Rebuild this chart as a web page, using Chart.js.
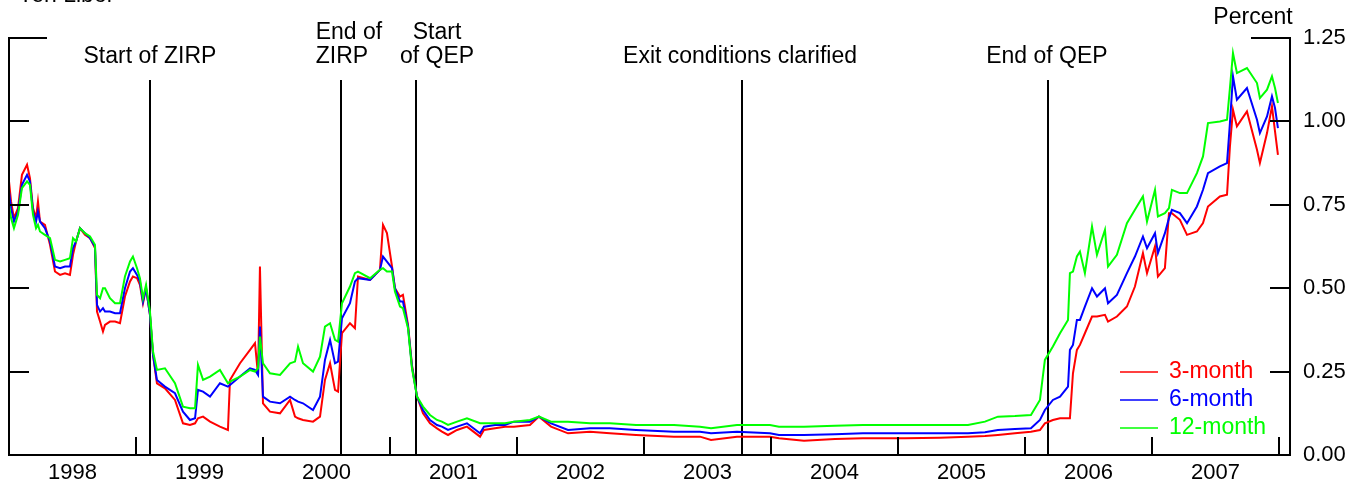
<!DOCTYPE html>
<html>
<head>
<meta charset="utf-8">
<script src="https://cdn.jsdelivr.net/npm/chart.js@4/dist/chart.umd.min.js"></script>
<style>
  html, body { margin: 0; padding: 0; background: #fff; overflow: hidden; }
  canvas { display: block; }
</style>
</head>
<body>
<canvas id="grafico-libor" width="1349" height="487"></canvas>
<script>
// dates as decimal years
const fechas = [
  1998.000, 1998.016, 1998.039, 1998.071, 1998.102, 1998.142, 1998.165, 1998.189, 1998.213, 1998.228,
  1998.244, 1998.283, 1998.323, 1998.362, 1998.402, 1998.441, 1998.480, 1998.504, 1998.528, 1998.559,
  1998.598, 1998.638, 1998.677, 1998.693, 1998.717, 1998.740, 1998.756, 1998.795, 1998.835, 1998.874,
  1998.913, 1998.953, 1998.976, 1999.008, 1999.031, 1999.055, 1999.079, 1999.110, 1999.134, 1999.165,
  1999.228, 1999.307, 1999.370, 1999.425, 1999.465, 1999.488, 1999.528, 1999.583, 1999.661, 1999.724,
  1999.740, 1999.819, 1999.898, 1999.937, 1999.961, 1999.976, 2000.000, 2000.055, 2000.134, 2000.213,
  2000.252, 2000.276, 2000.315, 2000.394, 2000.449, 2000.488, 2000.528, 2000.567, 2000.591, 2000.622,
  2000.685, 2000.724, 2000.748, 2000.843, 2000.921, 2000.945, 2000.976, 2001.016, 2001.039, 2001.079,
  2001.102, 2001.142, 2001.173, 2001.213, 2001.260, 2001.315, 2001.370, 2001.409, 2001.457, 2001.528,
  2001.606, 2001.709, 2001.740, 2001.827, 2001.906, 2001.976, 2002.102, 2002.173, 2002.268, 2002.402,
  2002.575, 2002.732, 2002.937, 2003.236, 2003.441, 2003.528, 2003.732, 2003.992, 2004.063, 2004.260,
  2004.504, 2004.724, 2005.055, 2005.331, 2005.551, 2005.685, 2005.787, 2005.921, 2006.047, 2006.118,
  2006.157, 2006.220, 2006.276, 2006.339, 2006.354, 2006.378, 2006.409, 2006.433, 2006.472, 2006.528,
  2006.567, 2006.630, 2006.654, 2006.724, 2006.803, 2006.866, 2006.929, 2006.961, 2007.024, 2007.047,
  2007.102, 2007.134, 2007.157, 2007.220, 2007.276, 2007.354, 2007.402, 2007.441, 2007.535, 2007.591,
  2007.614, 2007.638, 2007.669, 2007.748, 2007.827, 2007.850, 2007.906, 2007.945, 2007.969, 2007.992
];

const libor3m = [
  0.82, 0.76, 0.71, 0.74, 0.84, 0.87, 0.83, 0.74, 0.71, 0.76,
  0.70, 0.69, 0.63, 0.55, 0.54, 0.545, 0.54, 0.60, 0.64, 0.68,
  0.66, 0.65, 0.62, 0.43, 0.40, 0.37, 0.39, 0.40, 0.40, 0.395,
  0.475, 0.52, 0.535, 0.53, 0.51, 0.455, 0.50, 0.42, 0.30, 0.215,
  0.20, 0.165, 0.095, 0.09, 0.095, 0.11, 0.115, 0.10, 0.085, 0.075,
  0.225, 0.275, 0.315, 0.335, 0.24, 0.565, 0.155, 0.13, 0.125, 0.165,
  0.115, 0.11, 0.105, 0.10, 0.115, 0.225, 0.275, 0.195, 0.19, 0.365,
  0.395, 0.38, 0.535, 0.525, 0.555, 0.69, 0.665, 0.565, 0.50, 0.475,
  0.48, 0.39, 0.27, 0.175, 0.125, 0.095, 0.08, 0.07, 0.06, 0.075,
  0.085, 0.055, 0.075, 0.08, 0.085, 0.085, 0.09, 0.115, 0.085, 0.065,
  0.07, 0.065, 0.06, 0.055, 0.055, 0.045, 0.055, 0.055, 0.05, 0.043,
  0.048, 0.05, 0.05, 0.052, 0.055, 0.057, 0.06, 0.065, 0.07, 0.075,
  0.095, 0.105, 0.11, 0.11, 0.11, 0.245, 0.315, 0.33, 0.365, 0.415,
  0.415, 0.42, 0.40, 0.415, 0.445, 0.505, 0.605, 0.545, 0.625, 0.535,
  0.56, 0.725, 0.725, 0.705, 0.66, 0.67, 0.695, 0.745, 0.775, 0.78,
  0.925, 1.035, 0.985, 1.03, 0.915, 0.875, 0.965, 1.045, 0.97, 0.90
];

const libor6m = [
  0.79, 0.74, 0.70, 0.73, 0.81, 0.84, 0.82, 0.73, 0.70, 0.73,
  0.70, 0.68, 0.64, 0.565, 0.56, 0.565, 0.565, 0.62, 0.64, 0.68,
  0.665, 0.65, 0.625, 0.45, 0.43, 0.44, 0.43, 0.43, 0.425, 0.425,
  0.50, 0.55, 0.56, 0.54, 0.52, 0.46, 0.50, 0.42, 0.30, 0.225,
  0.205, 0.185, 0.13, 0.105, 0.11, 0.195, 0.19, 0.175, 0.215, 0.205,
  0.21, 0.235, 0.26, 0.255, 0.24, 0.385, 0.175, 0.16, 0.155, 0.175,
  0.165, 0.16, 0.155, 0.135, 0.175, 0.285, 0.345, 0.275, 0.28, 0.41,
  0.455, 0.52, 0.53, 0.525, 0.555, 0.595, 0.58, 0.56, 0.50, 0.46,
  0.46, 0.385, 0.265, 0.175, 0.135, 0.105, 0.09, 0.085, 0.075, 0.085,
  0.095, 0.065, 0.085, 0.09, 0.09, 0.10, 0.10, 0.115, 0.095, 0.075,
  0.08, 0.08, 0.075, 0.07, 0.07, 0.065, 0.07, 0.065, 0.06, 0.06,
  0.062, 0.065, 0.065, 0.065, 0.065, 0.068, 0.075, 0.078, 0.08, 0.105,
  0.135, 0.165, 0.175, 0.205, 0.315, 0.33, 0.405, 0.405, 0.445, 0.50,
  0.475, 0.50, 0.455, 0.48, 0.545, 0.595, 0.655, 0.62, 0.665, 0.605,
  0.665, 0.71, 0.735, 0.725, 0.695, 0.745, 0.795, 0.845, 0.865, 0.875,
  0.995, 1.135, 1.065, 1.10, 1.005, 0.965, 1.015, 1.075, 1.04, 0.98
];

const libor12m = [
  0.75, 0.71, 0.68, 0.72, 0.80, 0.82, 0.81, 0.72, 0.68, 0.69,
  0.67, 0.66, 0.65, 0.585, 0.58, 0.585, 0.59, 0.65, 0.64, 0.68,
  0.665, 0.655, 0.63, 0.48, 0.47, 0.50, 0.50, 0.47, 0.455, 0.455,
  0.535, 0.58, 0.595, 0.56, 0.53, 0.47, 0.51, 0.43, 0.31, 0.255,
  0.26, 0.215, 0.145, 0.14, 0.14, 0.27, 0.225, 0.235, 0.255, 0.215,
  0.22, 0.235, 0.255, 0.25, 0.26, 0.355, 0.275, 0.245, 0.24, 0.275,
  0.28, 0.325, 0.275, 0.25, 0.295, 0.385, 0.395, 0.345, 0.34, 0.455,
  0.505, 0.545, 0.55, 0.53, 0.555, 0.56, 0.55, 0.55, 0.49, 0.445,
  0.44, 0.38, 0.26, 0.175, 0.145, 0.12, 0.105, 0.10, 0.09, 0.10,
  0.11, 0.095, 0.095, 0.095, 0.095, 0.10, 0.105, 0.115, 0.10, 0.10,
  0.095, 0.095, 0.09, 0.09, 0.085, 0.08, 0.09, 0.09, 0.085, 0.085,
  0.088, 0.09, 0.09, 0.09, 0.09, 0.10, 0.115, 0.117, 0.12, 0.165,
  0.285, 0.325, 0.365, 0.405, 0.545, 0.55, 0.595, 0.61, 0.545, 0.685,
  0.60, 0.675, 0.565, 0.60, 0.695, 0.735, 0.775, 0.70, 0.795, 0.715,
  0.725, 0.74, 0.795, 0.785, 0.785, 0.845, 0.895, 0.995, 1.00, 1.005,
  1.10, 1.205, 1.145, 1.16, 1.115, 1.07, 1.095, 1.135, 1.10, 1.055
];

const eventos = [
  { fecha: 1999.110, lineas: ['Start of ZIRP'], dx: [0] },
  { fecha: 2000.614, lineas: ['End of', 'ZIRP'], dx: [8, 1] },
  { fecha: 2001.205, lineas: ['Start', 'of QEP'], dx: [21, 21] },
  { fecha: 2003.772, lineas: ['Exit conditions clarified'], dx: [-2] },
  { fecha: 2006.181, lineas: ['End of QEP'], dx: [-1] }
];

const años = [1998, 1999, 2000, 2001, 2002, 2003, 2004, 2005, 2006, 2007];
const ticksY = [0, 0.25, 0.5, 0.75, 1.0, 1.25];
const series = ['3-month', '6-month', '12-month'];
const colores = ['#ff0000', '#0000ff', '#00ff00'];

const FUENTE_EJES = '22px "Liberation Sans", Arial, sans-serif';
const FUENTE_TEXTO = '23px "Liberation Sans", Arial, sans-serif';

const puntos = (valores) => fechas.map((f, i) => ({ x: f, y: valores[i] }));

const marco = {
  id: 'marco',
  beforeDatasetsDraw(chart) {
    const ctx = chart.ctx;
    const xs = chart.scales.x;
    const a = chart.chartArea;
    ctx.save();
    ctx.strokeStyle = '#000';
    ctx.lineWidth = 2;
    eventos.forEach(ev => {
      const px = Math.round(xs.getPixelForValue(ev.fecha));
      ctx.beginPath();
      ctx.moveTo(px, 80);
      ctx.lineTo(px, a.bottom);
      ctx.stroke();
    });
    ctx.restore();
  },
  afterDatasetsDraw(chart) {
    const ctx = chart.ctx;
    const xs = chart.scales.x;
    const ys = chart.scales.y;
    const a = chart.chartArea;
    ctx.save();
    ctx.strokeStyle = '#000';
    ctx.fillStyle = '#000';
    ctx.lineWidth = 2;

    // frame
    ctx.beginPath();
    ctx.moveTo(a.left + 38, a.top);
    ctx.lineTo(a.left, a.top);
    ctx.lineTo(a.left, a.bottom);
    ctx.lineTo(a.right, a.bottom);
    ctx.lineTo(a.right, a.top);
    ctx.lineTo(a.right - 39, a.top);
    ctx.stroke();

    // y ticks both sides
    ticksY.forEach(v => {
      if (v === 0 || v === 1.25) return;
      const py = Math.round(ys.getPixelForValue(v));
      ctx.beginPath();
      ctx.moveTo(a.left, py);
      ctx.lineTo(a.left + 20, py);
      ctx.moveTo(a.right, py);
      ctx.lineTo(a.right - 20, py);
      ctx.stroke();
    });

    // x ticks at year boundaries
    for (let y = 1999; y <= 2008; y++) {
      const px = Math.round(xs.getPixelForValue(y));
      if (px > a.right - 2) continue;
      ctx.beginPath();
      ctx.moveTo(px, a.bottom);
      ctx.lineTo(px, a.bottom - 18);
      ctx.stroke();
    }

    ctx.font = FUENTE_EJES;
    ctx.textBaseline = 'middle';
    ctx.textAlign = 'left';
    ticksY.forEach(v => {
      ctx.fillText(v.toFixed(2), a.right + 13, ys.getPixelForValue(v));
    });

    ctx.textAlign = 'center';
    años.forEach(y => {
      ctx.fillText(String(y), xs.getPixelForValue(y + 0.5), a.bottom + 18);
    });

    ctx.font = FUENTE_TEXTO;
    ctx.fillText('Percent', a.right - 37, 18);
    ctx.textAlign = 'left';
    ctx.textBaseline = 'alphabetic';
    ctx.fillText('Yen Libor', 18, 2);

    // event labels
    ctx.textAlign = 'center';
    ctx.textBaseline = 'middle';
    eventos.forEach(ev => {
      const px = xs.getPixelForValue(ev.fecha);
      const n = ev.lineas.length;
      ev.lineas.forEach((t, i) => {
        const py = 57 - (n - 1 - i) * 24;
        ctx.fillText(t, px + ev.dx[i], py);
      });
    });

    // legend
    ctx.textAlign = 'left';
    series.forEach((s, i) => {
      const py = 372 + i * 28;
      ctx.strokeStyle = colores[i];
      ctx.fillStyle = colores[i];
      ctx.lineWidth = 1.5;
      ctx.beginPath();
      ctx.moveTo(1120, py);
      ctx.lineTo(1158, py);
      ctx.stroke();
      ctx.fillText(s, 1169, py);
    });
    ctx.restore();
  }
};

const ctxLibor = document.getElementById('grafico-libor').getContext('2d');
new Chart(ctxLibor, {
  type: 'line',
  data: {
    datasets: [
      { label: series[0], data: puntos(libor3m), borderColor: colores[0], order: 2 },
      { label: series[1], data: puntos(libor6m), borderColor: colores[1], order: 1 },
      { label: series[2], data: puntos(libor12m), borderColor: colores[2], order: 0 }
    ]
  },
  options: {
    responsive: false,
    animation: false,
    devicePixelRatio: 1,
    layout: { padding: { left: 9, right: 59, top: 38, bottom: 32 } },
    elements: {
      point: { radius: 0 },
      line: { borderWidth: 2, tension: 0, fill: false }
    },
    scales: {
      x: { type: 'linear', min: 1998, max: 2008.087, display: false },
      y: { type: 'linear', min: 0, max: 1.25, display: false }
    },
    plugins: {
      legend: { display: false },
      tooltip: { enabled: false },
      title: { display: false }
    }
  },
  plugins: [marco]
});
</script>
</body>
</html>
